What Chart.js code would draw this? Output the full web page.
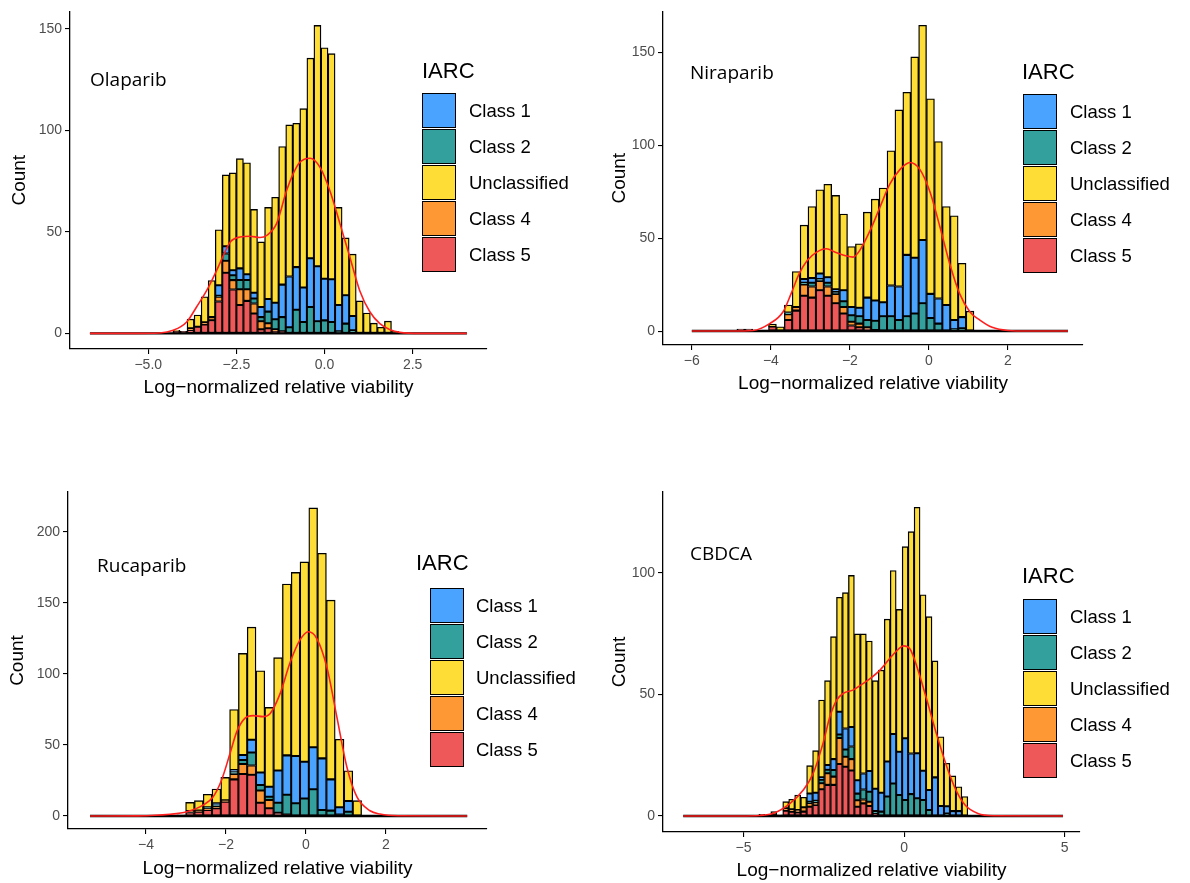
<!DOCTYPE html>
<html>
<head>
<meta charset="utf-8">
<script src="https://cdn.jsdelivr.net/npm/chart.js@4/dist/chart.umd.min.js"></script>
<style>
  body { margin: 0; background: #fff; width: 1190px; height: 883px; position: relative; overflow: hidden; font-family: "Liberation Sans", Arial, sans-serif; }
  canvas { position: absolute; }
  .drug { position: absolute; font-family: "Open Sans", sans-serif; font-size: 19px; line-height: 24px; color: #000; white-space: nowrap; }
  .ltitle { position: absolute; font-size: 22px; line-height: 24px; color: #000; }
  .lkey { position: absolute; width: 34px; height: 35px; box-sizing: border-box; border: 1.5px solid #000; }
  .llab { position: absolute; font-size: 18.5px; line-height: 20px; color: #000; white-space: nowrap; }
</style>
</head>
<body>
<canvas id="ola" width="595" height="441" style="left:0;top:0"></canvas>
<canvas id="nira" width="595" height="441" style="left:595px;top:0"></canvas>
<canvas id="ruca" width="595" height="441" style="left:0;top:441px"></canvas>
<canvas id="cbdca" width="595" height="441" style="left:595px;top:441px"></canvas>
<script>
const classNames = ["Class 1", "Class 2", "Unclassified", "Class 4", "Class 5"];
const classColors = ["#4aa3ff", "#34a09e", "#fddd36", "#fd9834", "#ee5858"];
// stacking from the bottom up
const stackOrder = [4, 3, 1, 0, 2];

// Olaparib
const olaCenters = [-4.2, -4.0, -3.8, -3.6, -3.4, -3.2, -3.0, -2.8, -2.6, -2.4, -2.2, -2.0, -1.8, -1.6, -1.4, -1.2,
  -1.0, -0.8, -0.6, -0.4, -0.2, 0.0, 0.2, 0.4, 0.6, 0.8, 1.0, 1.2, 1.4, 1.6, 1.8, 2.0];
const olaClass5 = [1, 1, 1.5, 3.3, 4.4, 6.5, 15.7, 29.8, 21.6, 14, 16, 9.8, 2, 2.5, 1, 1, 0, 0, 0, 0, 0, 0, 0, 0, 0, 0, 0, 0, 0, 0, 0, 0];
const olaClass4 = [0, 0, 1, 0, 1, 1.5, 2.3, 5.9, 4.6, 7.7, 5.7, 4.9, 4, 2.5, 1, 0, 0, 0, 0, 0, 0, 0, 0, 0, 0, 0, 0, 0, 0, 0, 0, 0];
const olaClass2 = [0, 0, 0, 0, 0, 0, 0.5, 3.6, 2.4, 4.6, 4.6, 2.5, 2, 5.7, 4.9, 7, 3, 11.6, 5.6, 13, 6, 6.4, 5.6, 1, 4.8, 1.5, 0, 0, 0, 0, 0, 0];
const olaClass1 = [0, 0, 0, 0, 0, 0, 5.2, 3.6, 2.5, 5.7, 2.8, 2.8, 5, 6.2, 8.2, 16, 25, 21, 17, 24, 27, 20.5, 21, 13, 14, 7, 0, 0, 0, 0, 0, 0];
const olaUncl = [0.5, 0, 4.5, 5.7, 12.6, 18, 27.3, 35.1, 47.9, 54, 54.9, 41, 32, 45.1, 51.9, 68, 74.6, 70.8, 88, 98.5, 118.6, 113.7, 111.1, 48, 28.2, 30.5, 16, 10, 5, 3, 6, 1];
const olaKdeX = [-6.655, -5.52, -4.67, -4.29, -3.91, -3.63, -3.345, -3.06, -2.87, -2.68, -2.40, -2.12, -1.83, -1.64, -1.36, -1.075,
  -0.89, -0.70, -0.41, -0.13, 0.15, 0.44, 0.72, 1.00, 1.29, 1.57, 1.86, 2.14, 2.71, 4.04];
const olaKdeY = [0, 0, 0.2, 1.5, 5.6, 13, 21, 31, 38.3, 44.9, 47.4, 47.8, 47.2, 48.2, 54, 70.3,
  78.5, 84.2, 86.2, 81.8, 70.3, 53.9, 37.5, 21, 10.5, 4.8, 1.8, 0.5, 0, 0];
const olaXTicks = [-5, -2.5, 0, 2.5];
const olaXLabels = ["\u22125.0", "\u22122.5", "0.0", "2.5"];
const olaYTicks = [0, 50, 100, 150];

// Niraparib
const niraCenters = [-4.76, -4.56, -4.36, -4.16, -3.96, -3.76, -3.56, -3.36, -3.16, -2.96, -2.76, -2.56, -2.36, -2.16, -1.96,
  -1.76, -1.56, -1.36, -1.16, -0.96, -0.76, -0.56, -0.36, -0.16, 0.04, 0.24, 0.44, 0.64, 0.84, 1.04];
const niraClass5 = [1, 1, 0, 0.5, 2.5, 0, 6, 11, 19, 18, 22, 19, 15, 9.5, 3, 2, 1, 0.5, 0, 0, 0, 0, 0, 0, 0, 0, 0, 0, 0, 0];
const niraClass4 = [0, 0, 0, 0, 0, 0, 3, 2, 6, 6, 5, 5, 5, 3.5, 2, 2, 1, 0, 0, 0, 0, 0, 0, 0, 0, 0, 0, 0, 0, 0];
const niraClass2 = [0, 0, 0, 0, 0, 0, 1, 0, 1, 2, 1, 2, 1, 3, 3.5, 4, 4, 5, 8, 8, 6, 8, 9.5, 15, 7, 4, 0, 1, 1.5, 0];
const niraClass1 = [0, 0, 0, 0, 0, 0, 0, 0, 2, 2.5, 3, 3, 1.5, 6, 4.5, 4.5, 12, 11, 7.5, 16.5, 18, 33, 30, 34, 13, 13.5, 14, 5, 6, 0];
const niraUncl = [0, 0, 0, 0, 1.2, 2.3, 4, 19, 29, 38.5, 45, 50, 50.5, 41, 32.5, 34.5, 46, 54.5, 61.5, 72.5, 95, 87.5, 108, 115.5, 105, 84.5, 53, 56, 29, 10.7];
const niraKdeX = [-6.0, -5.0, -4.45, -4.03, -3.69, -3.49, -3.28, -3.08, -2.84, -2.59, -2.38, -2.13, -1.92, -1.75, -1.49,
  -1.24, -0.99, -0.73, -0.48, -0.23, 0.03, 0.28, 0.53, 0.78, 1.04, 1.29, 1.6, 2.0, 2.5, 3.52];
const niraKdeY = [0, 0, 0.3, 4, 10.4, 20, 31, 38, 42.5, 44.3, 42.5, 40.7, 39.8, 43.4, 54,
  66.6, 79, 87, 90.7, 87, 74.7, 56, 36, 20, 10.3, 5.9, 2, 0.3, 0, 0];
const niraXTicks = [-6, -4, -2, 0, 2];
const niraXLabels = ["\u22126", "\u22124", "\u22122", "0", "2"];
const niraYTicks = [0, 50, 100, 150];

// Rucaparib
const rucaCenters = [-3.34, -3.12, -2.90, -2.68, -2.46, -2.24, -2.02, -1.80, -1.58, -1.36, -1.14, -0.92, -0.70, -0.48, -0.26,
  -0.04, 0.18, 0.40, 0.62, 0.84, 1.06, 1.28];
const rucaClass5 = [0.5, 0.8, 2.5, 3, 4.2, 5.4, 10, 25.8, 29.6, 29, 9.4, 5.4, 2.3, 1, 0, 0, 0, 0, 0, 0, 0, 0];
const rucaClass4 = [0, 0, 1, 0.8, 1, 1.5, 1, 3.8, 7, 6.6, 8.5, 5.9, 0, 0, 0, 0, 0, 0, 0, 0, 0, 0];
const rucaClass2 = [0, 0, 0, 0, 1, 1, 0, 1.6, 2.8, 9.2, 4, 2.3, 7, 14, 9, 12.4, 18.8, 4.2, 3.8, 1, 3, 0];
const rucaClass1 = [0, 0, 0, 0, 0, 1, 0, 1.2, 3.5, 8.9, 8.7, 7, 22.8, 27.7, 33.3, 25.8, 29.6, 36.4, 22, 5.2, 7.5, 0];
const rucaUncl = [0, 0, 6.1, 7, 9.1, 10.1, 16.2, 42.6, 71.6, 79.3, 71.7, 55.9, 79.4, 120.7, 129.3, 140.8, 168.6, 144.4, 126.2, 47.8, 21.4, 10.8];
const rucaKdeX = [-5.4, -4.2, -3.40, -2.98, -2.57, -2.32, -2.11, -1.90, -1.73, -1.53, -1.32, -1.07, -0.90, -0.65, -0.40,
  -0.15, 0.06, 0.27, 0.52, 0.77, 1.02, 1.27, 1.60, 1.85, 2.3, 4.03];
const rucaKdeY = [0, 0.1, 1.2, 3, 7.7, 13.6, 25.4, 44, 59.4, 68.8, 70.7, 70, 72, 86, 108,
  124, 129.8, 125, 105, 70, 34.7, 13.6, 3.7, 1.4, 0.2, 0];
const rucaXTicks = [-4, -2, 0, 2];
const rucaXLabels = ["\u22124", "\u22122", "0", "2"];
const rucaYTicks = [0, 50, 100, 150, 200];

// CBDCA
const cbdcaCenters = [-4.431, -4.245, -4.059, -3.873, -3.687, -3.501, -3.315, -3.129, -2.943, -2.757, -2.571, -2.385,
  -2.199, -2.013, -1.827, -1.641, -1.455, -1.269, -1.083, -0.897, -0.711, -0.525, -0.339, -0.153, 0.033, 0.219,
  0.405, 0.591, 0.777, 0.963, 1.149, 1.335, 1.521, 1.707, 1.893];
const cbdcaClass5 = [0.7, 0, 0.6, 0.5, 2.2, 1.8, 1.5, 1.8, 3.8, 4.5, 11, 12.8, 12.8, 21.4, 20.3, 18.7, 3.8, 5.2, 4.1, 1,
  0, 0, 0, 0, 0, 0, 0, 0, 0, 0, 0, 0, 0, 0, 0];
const cbdcaClass4 = [0, 0, 0, 0, 1, 1, 1, 1.8, 1.6, 1, 2.5, 4.8, 3.4, 10.7, 4.1, 4.7, 2.7, 1.6, 1.8, 0,
  0, 0, 0, 0, 0, 0, 0, 0, 0, 0, 0, 0, 0, 0, 0];
const cbdcaClass2 = [0, 0, 0, 0, 0, 0, 0, 0, 0.5, 0.8, 1.4, 1.4, 2.7, 1.4, 3, 5.2, 2.7, 4.1, 4.1, 1,
  1.8, 8, 13.4, 8.6, 6.6, 9, 7.3, 6.6, 2.5, 0, 0, 1, 0, 0, 0];
const cbdcaClass1 = [0, 0, 0, 0, 0, 0, 0, 0, 3.4, 3.3, 1, 2, 4.5, 9.4, 8.6, 8, 5.5, 6.6, 8.5, 9.2,
  7.8, 14.4, 20.3, 17.8, 25.4, 16.7, 18.5, 12, 8.2, 15.9, 4.1, 3, 2, 2, 0];
const cbdcaUncl = [0, 0, 1.2, 0, 2.7, 4.1, 6.1, 4.1, 11.4, 17.3, 31.8, 34.7, 50.4, 47.1, 55.9, 62.4, 60.2, 57.4, 53.5, 44.5,
  50.4, 58.6, 67.3, 58.6, 78.8, 91.3, 101.2, 72.4, 71.3, 47.9, 28.5, 17.7, 14.5, 10, 8];
const cbdcaKdeX = [-6.88, -5.11, -4.49, -4.07, -3.55, -3.14, -2.83, -2.51, -2.31, -2.10, -1.89, -1.58, -1.27, -1.06,
  -0.75, -0.44, -0.18, -0.02, 0.19, 0.40, 0.71, 1.02, 1.33, 1.64, 1.90, 2.3, 2.8, 4.95];
const cbdcaKdeY = [0, 0, 0.2, 1.1, 5.2, 10.7, 17.6, 30.6, 40.9, 47.7, 50.5, 51.9, 54.6, 56.5,
  60, 64.9, 68.6, 70, 68.6, 61.4, 47.7, 33.3, 20.3, 10, 4.5, 1, 0.1, 0];
const cbdcaXTicks = [-5, 0, 5];
const cbdcaXLabels = ["\u22125", "0", "5"];
const cbdcaYTicks = [0, 50, 100];

Chart.defaults.font.family = "'Liberation Sans', Arial, sans-serif";

const panels = [
  { id: "ola", name: "Olaparib", area: { left: 70, right: 487, top: 10, bottom: 349 },
    xMin: -7.22, xMax: 4.61, yMin: -7.7, yMax: 158.5, span: [-6.655, 4.04],
    centers: olaCenters, series: [olaClass1, olaClass2, olaUncl, olaClass4, olaClass5],
    kdeX: olaKdeX, kdeY: olaKdeY, xTicks: olaXTicks, xLabels: olaXLabels, yTicks: olaYTicks,
    yTitlePad: 8.2, xTitlePad: 42, label: [90, 67], legend: { title: [422, 59], key: [422, 93], text: 469 } },
  { id: "nira", name: "Niraparib", area: { left: 68, right: 488, top: 10, bottom: 345 },
    xMin: -6.73, xMax: 3.9, yMin: -7.5, yMax: 172, span: [-6.0, 3.52],
    centers: niraCenters, series: [niraClass1, niraClass2, niraUncl, niraClass4, niraClass5],
    kdeX: niraKdeX, kdeY: niraKdeY, xTicks: niraXTicks, xLabels: niraXLabels, yTicks: niraYTicks,
    yTitlePad: 13.5, xTitlePad: 46, label: [690, 60], legend: { title: [1022, 60], key: [1023, 94], text: 1070 } },
  { id: "ruca", name: "Rucaparib", area: { left: 68, right: 487, top: 51, bottom: 388 },
    xMin: -5.95, xMax: 4.525, yMin: -9.15, yMax: 228.2, span: [-5.4, 4.03],
    centers: rucaCenters, series: [rucaClass1, rucaClass2, rucaUncl, rucaClass4, rucaClass5],
    kdeX: rucaKdeX, kdeY: rucaKdeY, xTicks: rucaXTicks, xLabels: rucaXLabels, yTicks: rucaYTicks,
    yTitlePad: 6.5, xTitlePad: 2, label: [97, 553], legend: { title: [416, 551], key: [430, 588], text: 476 } },
  { id: "cbdca", name: "CBDCA", area: { left: 68, right: 485, top: 51, bottom: 391 },
    xMin: -7.51, xMax: 5.48, yMin: -6.58, yMax: 133.3, span: [-6.88, 4.95],
    centers: cbdcaCenters, series: [cbdcaClass1, cbdcaClass2, cbdcaUncl, cbdcaClass4, cbdcaClass5],
    kdeX: cbdcaKdeX, kdeY: cbdcaKdeY, xTicks: cbdcaXTicks, xLabels: cbdcaXLabels, yTicks: cbdcaYTicks,
    yTitlePad: 13.5, xTitlePad: 0, label: [690, 541], legend: { title: [1022, 564], key: [1023, 599], text: 1070 } }
];

function axisStyle() {
  return {
    grid: { display: true, drawOnChartArea: false, drawTicks: true, tickLength: 5, color: "#000", lineWidth: 1.1, offset: false },
    border: { display: true, color: "#000", width: 1.3 }
  };
}

function drawPanel(p) {
  const W = 595, H = 441;
  const datasets = [
    { type: "line", data: p.kdeX.map((x, i) => ({ x, y: p.kdeY[i] })), borderColor: "#ff1f1f", borderWidth: 1.6,
      pointRadius: 0, cubicInterpolationMode: "monotone", stack: "kde", order: -2 },
    { type: "line", data: p.span.map((x) => ({ x, y: 0 })), borderColor: "#000", borderWidth: 2.4,
      pointRadius: 0, stack: "base", order: -1 }
  ];
  stackOrder.forEach((k) => {
    datasets.push({
      type: "bar", label: classNames[k],
      data: p.series[k].map((y, i) => ({ x: p.centers[i], y })),
      backgroundColor: classColors[k], borderColor: "#000", borderWidth: 1.35, borderSkipped: false,
      barPercentage: 1, categoryPercentage: 1
    });
  });

  new Chart(document.getElementById(p.id), {
    type: "bar",
    data: { datasets },
    options: {
      responsive: false,
      animation: false,
      events: [],
      layout: { padding: { left: 0, top: p.area.top, right: W - p.area.right, bottom: 0 } },
      plugins: { legend: { display: false }, tooltip: { enabled: false } },
      scales: {
        x: {
          type: "linear", min: p.xMin, max: p.xMax, stacked: true, offset: false,
          afterBuildTicks: (s) => { s.ticks = p.xTicks.map((v) => ({ value: v })); },
          afterFit: (s) => { s.height = H - p.area.bottom; },
          ...axisStyle(),
          ticks: { color: "#4d4d4d", font: { size: 14 }, padding: 3, maxRotation: 0, autoSkip: false,
            callback: (v, i) => p.xLabels[i] },
          title: { display: true, text: "Log\u2212normalized relative viability", color: "#000",
            font: { size: 19 }, padding: { top: 0, bottom: p.xTitlePad } }
        },
        y: {
          min: p.yMin, max: p.yMax, stacked: true,
          afterBuildTicks: (s) => { s.ticks = p.yTicks.map((v) => ({ value: v })); },
          afterFit: (s) => { s.width = p.area.left; },
          ...axisStyle(),
          ticks: { color: "#4d4d4d", font: { size: 14 }, padding: 3, autoSkip: false,
            callback: (v) => String(v) },
          title: { display: true, text: "Count", color: "#000", font: { size: 19 },
            padding: { top: p.yTitlePad, bottom: 0 } }
        }
      }
    }
  });
}

function addLegend(p) {
  let html = `<div class="drug" style="left:${p.label[0]}px;top:${p.label[1]}px">${p.name}</div>`;
  html += `<div class="ltitle" style="left:${p.legend.title[0]}px;top:${p.legend.title[1]}px">IARC</div>`;
  classNames.forEach((name, k) => {
    const top = p.legend.key[1] + k * 36;
    html += `<div class="lkey" style="left:${p.legend.key[0]}px;top:${top}px;background:${classColors[k]}"></div>`;
    html += `<div class="llab" style="left:${p.legend.text}px;top:${top + 7.5}px">${name}</div>`;
  });
  document.body.insertAdjacentHTML("beforeend", html);
}

panels.forEach((p) => {
  drawPanel(p);
  addLegend(p);
});
</script>
</body>
</html>
